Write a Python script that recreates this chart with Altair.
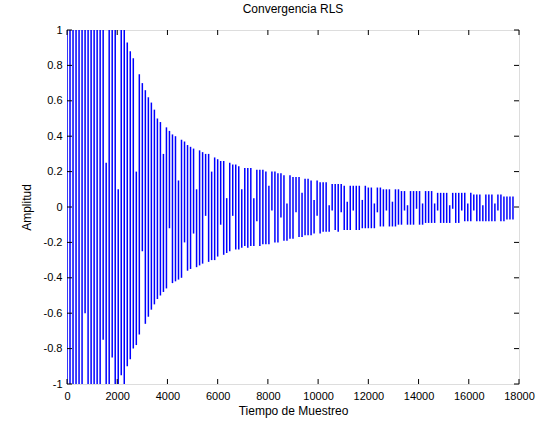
import altair as alt
import pandas as pd

# One vertical stroke every 120 samples; top and bottom of each stroke
stroke_step = 120
stroke_top = [
    1.5, 1.5, 1.5, 1.5, 1.5, 1.5, 1.5, 1.5, 1.5, 1.5,
    1.5, 1.5, 1.5, 0.25, 1.5, 1.5, 1.5, 0.1, 1.2, 1.1,
    0.93, 0.88, 0.84, 0.20, 0.75, 0.70, 0.66, 0.62, 0.59, 0.55,
    0.50, 0.48, 0.30, 0.45, 0.43, 0.41, 0.40, 0.15, 0.38, 0.37,
    0.35, 0.34, 0.33, 0.10, 0.32, 0.31, 0.30, 0.30, 0.20, 0.28,
    0.27, 0.26, 0.26, 0.05, 0.25, 0.24, 0.24, 0.23, 0.10, 0.22,
    0.22, 0.22, 0.05, 0.21, 0.21, 0.21, 0.20, 0.12, 0.20, 0.20,
    0.19, 0.19, 0.18, 0.02, 0.18, 0.17, 0.17, 0.17, 0.08, 0.16,
    0.16, 0.15, 0.04, 0.15, 0.14, 0.14, 0.14, 0.01, 0.13, 0.13,
    0.13, 0.13, 0.12, 0.03, 0.12, 0.12, 0.12, 0.12, 0.04, 0.12,
    0.11, 0.11, 0.02, 0.11, 0.11, 0.10, 0.10, 0.10, 0.03, 0.10,
    0.10, 0.09, 0.09, 0.01, 0.09, 0.09, 0.09, 0.09, 0.02, 0.09,
    0.09, 0.09, 0.02, 0.08, 0.08, 0.08, 0.08, 0.01, 0.08, 0.08,
    0.08, 0.08, 0.08, 0.02, 0.08, 0.07, 0.07, 0.07, 0.01, 0.07,
    0.07, 0.07, 0.02, 0.07, 0.07, 0.06, 0.06, 0.06, 0.06,
]
stroke_bottom = [
    -1.5, -1.5, -1.5, -1.5, -1.5, -1.5, -0.6, -1.5, -1.5, -1.5,
    -1.5, -1.5, -0.75, -1.5, -1.5, -0.85, -1.5, -1.5, -0.95, -1.0,
    -0.90, -0.86, -0.80, -0.78, -0.72, -0.25, -0.66, -0.62, -0.58, -0.55,
    -0.52, -0.50, -0.48, -0.46, -0.12, -0.43, -0.42, -0.41, -0.40, -0.20,
    -0.36, -0.35, -0.15, -0.34, -0.33, -0.32, -0.05, -0.31, -0.30, -0.30,
    -0.28, -0.10, -0.27, -0.26, -0.25, -0.05, -0.24, -0.24, -0.23, -0.22,
    -0.23, -0.22, -0.22, -0.08, -0.22, -0.21, -0.21, -0.21, -0.02, -0.20,
    -0.20, -0.06, -0.19, -0.19, -0.18, -0.18, -0.03, -0.17, -0.17, -0.16,
    -0.16, -0.16, -0.15, -0.05, -0.15, -0.14, -0.14, -0.14, -0.02, -0.13,
    -0.14, -0.03, -0.13, -0.13, -0.13, -0.02, -0.13, -0.13, -0.12, -0.12,
    -0.12, -0.12, -0.12, -0.03, -0.11, -0.11, -0.02, -0.11, -0.11, -0.11,
    -0.10, -0.10, -0.02, -0.10, -0.10, -0.10, -0.01, -0.10, -0.10, -0.09,
    -0.09, -0.09, -0.09, -0.02, -0.09, -0.09, -0.09, -0.09, -0.01, -0.09,
    -0.09, -0.02, -0.08, -0.08, -0.08, -0.02, -0.08, -0.08, -0.08, -0.08,
    -0.08, -0.08, -0.08, -0.02, -0.08, -0.08, -0.07, -0.07, -0.07,
]
samples = [i * stroke_step for i in range(len(stroke_top))]

x_ticks = [0, 2000, 4000, 6000, 8000, 10000, 12000, 14000, 16000, 18000]
y_ticks = [-1, -0.8, -0.6, -0.4, -0.2, 0, 0.2, 0.4, 0.6, 0.8, 1]

W, H = 452, 354
FONT = "Liberation Sans"

df = pd.DataFrame({"t": samples, "top": stroke_top, "bottom": stroke_bottom})
xt = pd.DataFrame({"t": x_ticks})
yt = pd.DataFrame({"top": y_ticks})

xscale = alt.Scale(domain=[0, 18000], nice=False, zero=False)
yscale = alt.Scale(domain=[-1, 1], nice=False, zero=False)

x_axis = alt.Axis(
    values=x_ticks, format="d", title="Tiempo de Muestreo",
    ticks=False, domain=False, grid=False, labelPadding=6, labelFlush=False,
    titlePadding=4, labelFontSize=11, titleFontSize=12,
    titleFontWeight="normal", labelColor="black", titleColor="black",
    labelFont=FONT, titleFont=FONT)
y_axis = alt.Axis(
    values=y_ticks, labelExpr="'' + datum.value", title="Amplitud",
    ticks=False, domain=False, grid=False, labelPadding=5, labelFlush=False,
    titlePadding=10, labelFontSize=11, titleFontSize=12,
    titleFontWeight="normal", labelColor="black", titleColor="black",
    labelFont=FONT, titleFont=FONT)

signal = alt.Chart(df).mark_rule(color="#0000ff", strokeWidth=1.5, clip=True).encode(
    x=alt.X("t:Q", scale=xscale, axis=x_axis),
    y=alt.Y("top:Q", scale=yscale, axis=y_axis),
    y2="bottom:Q",
)

tick_len = 5
bottom_ticks = alt.Chart(xt).mark_rule(color="black", strokeWidth=1).encode(
    x=alt.X("t:Q", scale=xscale, axis=x_axis), y=alt.value(H), y2=alt.value(H - tick_len))
top_ticks = alt.Chart(xt).mark_rule(color="black", strokeWidth=1).encode(
    x=alt.X("t:Q", scale=xscale, axis=x_axis), y=alt.value(0), y2=alt.value(tick_len))
left_ticks = alt.Chart(yt).mark_rule(color="black", strokeWidth=1).encode(
    y=alt.Y("top:Q", scale=yscale, axis=y_axis), x=alt.value(0), x2=alt.value(tick_len))
right_ticks = alt.Chart(yt).mark_rule(color="black", strokeWidth=1).encode(
    y=alt.Y("top:Q", scale=yscale, axis=y_axis), x=alt.value(W), x2=alt.value(W - tick_len))

chart = alt.layer(signal, bottom_ticks, top_ticks, left_ticks, right_ticks).properties(
    width=W, height=H,
    title=alt.TitleParams("Convergencia RLS", fontSize=12, fontWeight="normal",
                          font=FONT, color="black", offset=8),
    autosize=alt.AutoSizeParams(type="none"),
    padding={"left": 67, "top": 30, "right": 30, "bottom": 39},
).configure_view(stroke="black", strokeWidth=2).configure(background="white")

chart.save("out.html", embed_options={"renderer": "svg", "actions": False})
